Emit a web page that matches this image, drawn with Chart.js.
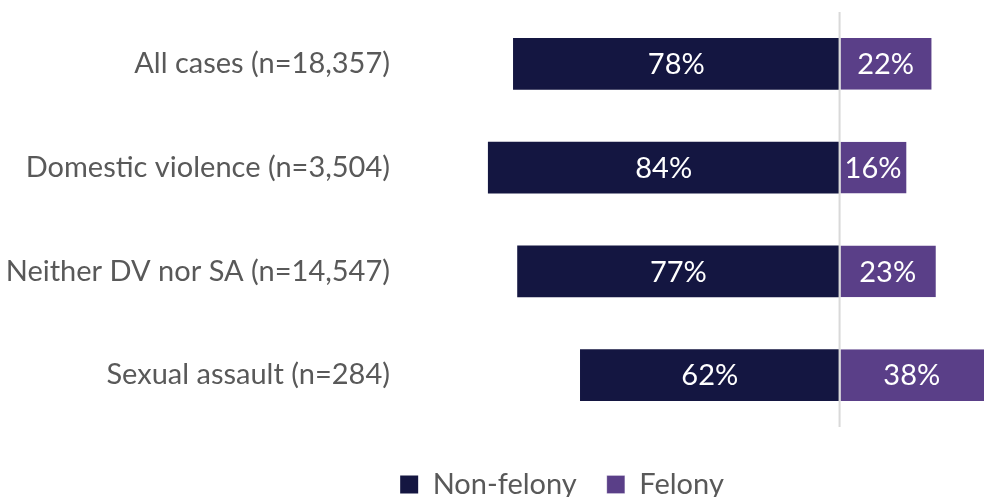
<!DOCTYPE html>
<html>
<head>
<meta charset="utf-8">
<script src="https://cdn.jsdelivr.net/npm/chart.js@4/dist/chart.umd.min.js"></script>
<style>
  html, body { margin: 0; padding: 0; background: #ffffff; }
  #wrap { width: 984px; height: 497px; }
</style>
</head>
<body>
<div id="wrap"><canvas id="chart"></canvas></div>
<script>
// Categories and shares (percent)
const categories = [
  'All cases (n=18,357)',
  'Domestic violence (n=3,504)',
  'Neither DV nor SA (n=14,547)',
  'Sexual assault (n=284)'
];
const nonFelony = [78, 84, 77, 62];
const felony = [22, 16, 23, 38];

const FONT = 'Lato, "Noto Sans", sans-serif';

// Percentage label in the middle of the visible part of each bar
const barLabels = {
  id: 'barLabels',
  afterDatasetsDraw(chart) {
    const ctx = chart.ctx;
    const area = chart.chartArea;
    ctx.save();
    ctx.font = '29px ' + FONT;
    ctx.fillStyle = '#ffffff';
    ctx.textAlign = 'center';
    ctx.textBaseline = 'middle';
    chart.data.datasets.forEach((ds, di) => {
      chart.getDatasetMeta(di).data.forEach((bar, i) => {
        const left = Math.max(Math.min(bar.x, bar.base), area.left);
        const right = Math.min(Math.max(bar.x, bar.base), area.right);
        ctx.fillText(ds.raw[i] + '%', (left + right) / 2, bar.y + 1);
      });
    });
    ctx.restore();
  }
};

// Thin grey line at zero, from top to bottom of the plot area
const zeroLine = {
  id: 'zeroLine',
  afterDatasetsDraw(chart) {
    const ctx = chart.ctx;
    const area = chart.chartArea;
    const x = chart.scales.x.getPixelForValue(0);
    ctx.save();
    ctx.strokeStyle = '#d9d9d9';
    ctx.lineWidth = 2;
    ctx.beginPath();
    ctx.moveTo(x, area.top);
    ctx.lineTo(x, area.bottom);
    ctx.stroke();
    ctx.restore();
  }
};

// Move the legend so it sits where the original had it
const legendShift = {
  id: 'legendShift',
  afterLayout(chart) {
    const lg = chart.legend;
    lg.left += 70;
    lg.right += 70;
  }
};

new Chart(document.getElementById('chart'), {
  type: 'bar',
  data: {
    labels: categories,
    datasets: [
      {
        label: 'Non-felony',
        raw: nonFelony,
        data: nonFelony.map(v => -v),
        backgroundColor: '#141641',
        categoryPercentage: 0.5,
        barPercentage: 1
      },
      {
        label: 'Felony',
        raw: felony,
        data: felony,
        backgroundColor: '#5a3f88',
        borderColor: '#ffffff',
        borderWidth: { left: 1 },
        borderSkipped: false,
        categoryPercentage: 0.5,
        barPercentage: 1
      }
    ]
  },
  options: {
    indexAxis: 'y',
    responsive: true,
    maintainAspectRatio: false,
    animation: false,
    layout: { padding: { top: 12, right: 0, bottom: -12, left: 0 } },
    scales: {
      x: {
        stacked: true,
        min: -105,
        max: 34.5,
        display: true,
        ticks: { display: false },
        border: { display: false },
        grid: { display: false, drawTicks: false },
        afterFit(scale) { scale.height = 13; }
      },
      y: {
        stacked: true,
        border: { display: false },
        grid: { display: false, drawTicks: false },
        ticks: {
          color: '#595959',
          font: { family: FONT, size: 29 },
          padding: 10
        },
        afterFit(scale) {
          scale.width = 400;
          scale.paddingTop = 0;
          scale.paddingBottom = 0;
        }
      }
    },
    plugins: {
      legend: {
        position: 'bottom',
        labels: {
          color: '#595959',
          font: { family: FONT, size: 29 },
          boxWidth: 18,
          boxHeight: 18,
          padding: 30
        }
      },
      tooltip: { enabled: false }
    }
  },
  plugins: [barLabels, zeroLine, legendShift]
});
</script>
</body>
</html>
